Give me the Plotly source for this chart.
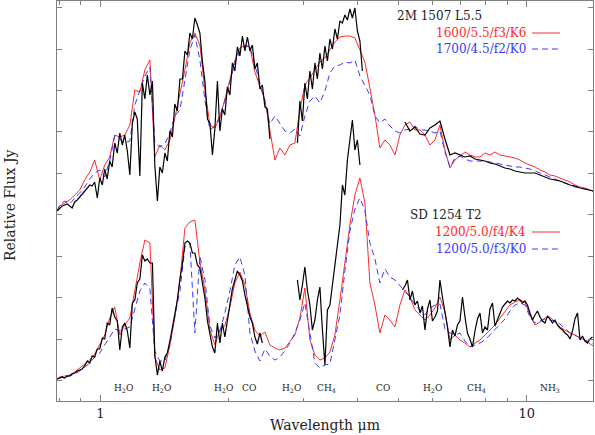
import math
import plotly.graph_objects as go

# ---------------- data ----------------
# common wavelength grid for the model spectra (micron)
wl_model = [
    0.791, 0.802, 0.824, 0.847, 0.870, 0.894, 0.918, 0.944, 0.969, 0.996,
    1.023, 1.051, 1.080, 1.110, 1.140, 1.172, 1.204, 1.237, 1.271, 1.306,
    1.341, 1.378, 1.416, 1.455, 1.494, 1.536, 1.578, 1.621, 1.665, 1.711,
    1.758, 1.806, 1.855, 1.906, 1.958, 2.012, 2.067, 2.124, 2.182, 2.242,
    2.303, 2.366, 2.431, 2.497, 2.566, 2.636, 2.708, 2.783, 2.859, 2.937,
    3.017, 3.100, 3.185, 3.272, 3.362, 3.454, 3.548, 3.646, 3.745, 3.848,
    3.953, 4.062, 4.173, 4.287, 4.405, 4.525, 4.649, 4.777, 4.908, 5.042,
    5.180, 5.322, 5.468, 5.618, 5.772, 5.930, 6.092, 6.259, 6.431, 6.607,
    6.788, 6.974, 7.165, 7.361, 7.563, 7.770, 7.983, 8.202, 8.427, 8.657,
    8.894, 9.138, 9.388, 9.645, 9.909, 10.18, 10.46, 10.75, 11.04, 11.34,
    11.65, 11.97, 12.30, 12.64, 12.98, 13.34, 13.70, 14.08, 14.31,
]

# 2M 1507 L5.5 models (relative flux, arbitrary offset units)
l55_model_1600 = [
    190, 195, 198, 201, 206, 211, 221, 229, 241, 221,
    236, 244, 266, 264, 266, 276, 311, 309, 331, 341,
    244, 256, 251, 261, 283, 306, 331, 358, 368, 356,
    311, 276, 273, 283, 301, 321, 341, 353, 356, 354,
    329, 316, 301, 271, 241, 253, 246, 256, 258, 291,
    316, 323, 331, 339, 343, 351, 359, 364, 365, 365,
    363, 351, 339, 313, 286, 253, 261, 256, 246, 266,
    276, 279, 271, 271, 266, 256, 261, 276, 251, 233,
    241, 245, 249, 246, 244, 244, 248, 246, 249, 246,
    245, 244, 243, 241, 238, 236, 234, 231, 229, 226,
    225, 223, 221, 219, 216, 214, 213, 211, 210,
]
l55_model_1700 = [
    190, 196, 200, 197, 203, 208, 214, 222, 228, 231,
    224, 240, 265, 262, 258, 260, 296, 310, 325, 334,
    258, 254, 257, 268, 285, 291, 321, 351, 366, 341,
    301, 271, 275, 285, 300, 320, 338, 350, 355, 354,
    335, 318, 300, 277, 285, 278, 270, 268, 272, 265,
    285, 300, 305, 298, 310, 328, 335, 336, 339, 338,
    341, 325, 316, 306, 285, 278, 282, 275, 270, 268,
    271, 272, 275, 271, 271, 270, 268, 270, 249, 234,
    243, 245, 242, 240, 240, 240, 240, 239, 238, 237,
    236, 235, 234, 234, 233, 232, 230, 228, 226, 224,
    222, 220, 218, 216, 214, 213, 212, 211, 210,
]
# SD 1254 T2 models
t2_model_f4 = [
    22, 24, 25, 26, 29, 33, 36, 41, 47, 56,
    66, 83, 94, 66, 76, 83, 111, 138, 161, 158,
    44, 31, 33, 56, 83, 121, 173, 179, 181, 139,
    111, 71, 56, 71, 75, 94, 118, 129, 116, 88,
    71, 65, 69, 56, 53, 51, 53, 59, 66, 83,
    113, 61, 46, 41, 43, 49, 66, 101, 139, 176,
    206, 223, 198, 118, 96, 68, 86, 81, 74, 96,
    111, 104, 91, 86, 81, 86, 93, 104, 89, 61,
    66, 61, 58, 54, 58, 61, 66, 71, 76, 83,
    89, 96, 99, 101, 99, 86, 76, 79, 83, 84,
    79, 74, 71, 68, 66, 63, 61, 57, 55,
]
t2_model_f3 = [
    22, 23, 24, 25, 27, 30, 34, 38, 44, 48,
    56, 64, 72, 70, 72, 74, 92, 110, 118, 112,
    50, 40, 40, 56, 85, 110, 154, 158, 68, 145,
    121, 75, 63, 70, 88, 110, 136, 144, 126, 68,
    50, 40, 52, 45, 41, 44, 50, 58, 68, 81,
    98, 70, 38, 33, 36, 37, 61, 86, 130, 170,
    192, 203, 190, 158, 142, 118, 132, 124, 121, 115,
    110, 104, 96, 91, 86, 93, 96, 97, 72, 68,
    66, 68, 60, 54, 56, 58, 61, 66, 71, 76,
    82, 90, 96, 98, 96, 84, 78, 80, 82, 81,
    80, 77, 72, 68, 66, 63, 61, 58, 57,
]

# observed spectra: near-infrared segment
wl_obs_nir = [
    0.791, 0.802, 0.813, 0.824, 0.835, 0.847, 0.858, 0.870, 0.882, 0.894,
    0.906, 0.918, 0.931, 0.944, 0.956, 0.969, 0.983, 0.996, 1.010, 1.023,
    1.037, 1.051, 1.065, 1.080, 1.095, 1.110, 1.125, 1.140, 1.156, 1.172,
    1.188, 1.204, 1.220, 1.237, 1.254, 1.271, 1.288, 1.306, 1.324, 1.341,
    1.360, 1.378, 1.397, 1.416, 1.435, 1.455, 1.475, 1.494, 1.515, 1.536,
    1.557, 1.578, 1.600, 1.621, 1.643, 1.665, 1.688, 1.711, 1.734, 1.758,
    1.782, 1.806, 1.831, 1.855, 1.881, 1.906, 1.932, 1.958, 1.985, 2.012,
    2.039, 2.067, 2.095, 2.124, 2.153, 2.182, 2.212, 2.242, 2.272, 2.303,
    2.334, 2.366, 2.398, 2.431, 2.464, 2.497,
]
l55_obs_nir = [
    190, 193, 195, 196, 197, 195, 193, 199, 201, 204,
    207, 210, 212, 216, 215, 219, 203, 223, 216, 232,
    222, 240, 234, 258, 248, 268, 256, 266, 250, 226,
    278, 289, 282, 225, 318, 302, 326, 306, 320, 236,
    200, 234, 228, 248, 240, 270, 264, 297, 290, 322,
    322, 350, 346, 368, 362, 383, 376, 368, 340, 320,
    282, 278, 246, 272, 320, 270, 292, 286, 314, 306,
    338, 330, 354, 345, 365, 350, 364, 350, 356, 332,
    338, 312, 316, 294, 292, 262,
]
t2_obs_nir = [
    22, 23, 24, 23, 25, 25, 27, 28, 30, 31,
    32, 35, 40, 38, 45, 44, 52, 52, 63, 62,
    78, 76, 93, 84, 80, 51, 74, 78, 70, 53,
    98, 101, 118, 122, 146, 140, 142, 138, 138, 46,
    26, 40, 30, 44, 48, 60, 74, 90, 101, 122,
    137, 158, 160, 158, 148, 148, 136, 133, 118, 103,
    80, 66, 54, 48, 78, 58, 78, 64, 80, 94,
    112, 121, 130, 126, 120, 106, 96, 84, 78, 64,
    57, 68, 58, None, None, None,
]

# observed spectra: L-band segment
wl_obs_l = [
    2.898, 2.937, 2.977, 3.017, 3.058, 3.100, 3.142, 3.185, 3.228, 3.272,
    3.317, 3.362, 3.408, 3.454, 3.501, 3.548, 3.597, 3.646, 3.695, 3.745,
    3.796, 3.848, 3.900, 3.953, 4.007, 4.062, 4.117,
]
l55_obs_l = [
    258, 300, 280, 318, 302, 330, 312, 338, 322, 348,
    332, 355, 340, 362, 352, 372, 362, 380, 378, 386,
    381, 392, 383, 393, 370, 360, 330,
]
t2_obs_l = [
    121, 101, 116, 134, 111, 96, 71, 81, 101, 114,
    71, 36, 91, 96, 116, 136, 156, 176, 216, 206,
    241, 261, 281, 251, 261, 236, None,
]

# observed spectra: mid-infrared segment
wl_l55_mir = [
    5.180, 5.322, 5.468, 5.618, 5.772, 5.930, 6.092, 6.259, 6.431, 6.607,
    6.788, 6.974, 7.165, 7.361, 7.563, 7.770, 7.983, 8.202, 8.427, 8.657,
    8.894, 9.138, 9.388, 9.645, 9.909, 10.18, 10.46, 10.75, 11.04, 11.34,
    11.65, 11.97, 12.30, 12.64, 12.98, 13.34, 13.70, 14.08, 14.31,
]
l55_obs_mir = [
    279, 270, 274, 267, 266, 273, 276, 280, 262, 246,
    248, 246, 244, 245, 242, 241, 240, 238, 237, 235,
    233, 232, 230, 229, 228, 228, 228, 226, 224, 222,
    221, 220, 218, 216, 215, 213, 212, 211, 210,
]
wl_t2_mir = [
    5.111, 5.180, 5.251, 5.322, 5.395, 5.468, 5.542, 5.618, 5.694, 5.772,
    5.850, 5.930, 6.011, 6.092, 6.175, 6.259, 6.344, 6.431, 6.518, 6.607,
    6.697, 6.788, 6.880, 6.974, 7.069, 7.165, 7.262, 7.361, 7.462, 7.563,
    7.666, 7.770, 7.876, 7.983, 8.092, 8.202, 8.314, 8.427, 8.542, 8.657,
    8.775, 8.894, 9.015, 9.138, 9.262, 9.388, 9.516, 9.645, 9.776, 9.909,
    10.04, 10.18, 10.32, 10.46, 10.60, 10.75, 10.89, 11.04, 11.19, 11.34,
    11.50, 11.65, 11.81, 11.97, 12.14, 12.30, 12.47, 12.64, 12.81, 12.98,
    13.16, 13.34, 13.52, 13.70, 13.89, 14.08, 14.27,
]
t2_obs_mir = [
    111, 115, 121, 101, 110, 96, 100, 88, 95, 71,
    92, 101, 80, 84, 90, 121, 104, 90, 74, 54,
    71, 65, 76, 80, 104, 84, 68, 62, 54, 70,
    82, 88, 68, 74, 71, 92, 98, 75, 82, 88,
    94, 97, 100, 98, 101, 100, 103, 101, 98, 100,
    96, 88, 81, 86, 90, 84, 80, 78, 85, 82,
    78, 81, 76, 73, 71, 68, 66, 62, 70, 82,
    88, 61, 65, 60, 58, 62, 64,
]

# feature labels
feature_names = ["H<sub>2</sub>O", "H<sub>2</sub>O", "H<sub>2</sub>O", "CO", "H<sub>2</sub>O",
                 "CH<sub>4</sub>", "CO", "H<sub>2</sub>O", "CH<sub>4</sub>", "NH<sub>3</sub>"]
feature_wl = [1.134, 1.393, 1.947, 2.23, 2.80, 3.40, 4.60, 6.0, 7.64, 11.34]
feature_level = 13

x_major_ticks = [1, 10]
x_major_labels = ["1", "10"]
x_minor_ticks = [0.8, 0.9, 2, 3, 4, 5, 6, 7, 8, 9]
y_ticks = [20.3 + 41.46 * k for k in range(10)]

upper_title = "2M 1507 L5.5"
upper_models = ["1600/5.5/f3/K6", "1700/4.5/f2/K0"]
lower_title = "SD 1254 T2"
lower_models = ["1200/5.0/f4/K4", "1200/5.0/f3/K0"]

# ---------------- figure ----------------
RED = "#ff2a2a"
BLUE = "#3a3aff"
FONT = "DejaVu Serif"
AX = "#808080"
TXT = "#222"

def join(*segs):
    xs, ys = [], []
    for i, (sx, sy) in enumerate(segs):
        if i:
            xs.append(None)
            ys.append(None)
        xs += list(sx)
        ys += list(sy)
    return xs, ys

fig = go.Figure()
for y, col, dash in [(l55_model_1600, RED, "solid"), (l55_model_1700, BLUE, "6px,4px"),
                     (t2_model_f4, RED, "solid"), (t2_model_f3, BLUE, "6px,4px")]:
    fig.add_trace(go.Scatter(x=wl_model, y=y, mode="lines",
                             line=dict(color=col, width=1, dash=dash), hoverinfo="skip"))

bx, by = join((wl_obs_nir, l55_obs_nir), (wl_obs_l, l55_obs_l), (wl_l55_mir, l55_obs_mir))
fig.add_trace(go.Scatter(x=bx, y=by, mode="lines", connectgaps=False,
                         line=dict(color="black", width=1.2)))
bx, by = join((wl_obs_nir, t2_obs_nir), (wl_obs_l, t2_obs_l), (wl_t2_mir, t2_obs_mir))
fig.add_trace(go.Scatter(x=bx, y=by, mode="lines", connectgaps=False,
                         line=dict(color="black", width=1.2)))

ann = []
for name, wl in zip(feature_names, feature_wl):
    ann.append(dict(x=math.log10(wl), y=feature_level, xref="x", yref="y", text=name,
                    showarrow=False, font=dict(family=FONT, size=9, color=TXT)))

def px2paper(px):
    return (px - 57) / 536.0

def py2paper(py):
    return (401 - py) / 400.0

def legend_block(title, models, y_title, y1, y2):
    ann.append(dict(x=px2paper(484), y=y_title, xref="paper", yref="y", text=title,
                    showarrow=False, font=dict(family=FONT, size=12, color=TXT)))
    for txt, yy, col, dash in [(models[0], y1, RED, "solid"), (models[1], y2, BLUE, "6px,4px")]:
        ann.append(dict(x=px2paper(528), y=yy, xref="paper", yref="y", text=txt,
                        xanchor="right", showarrow=False,
                        font=dict(family=FONT, size=12, color=col)))
        fig.add_shape(type="line", xref="paper", yref="y", x0=px2paper(532), x1=px2paper(560),
                      y0=yy, y1=yy, line=dict(color=col, width=1, dash=dash))

legend_block(upper_title, upper_models, 401 - 16, 401 - 33, 401 - 49)
legend_block(lower_title, lower_models, 401 - 215, 401 - 232, 401 - 249)

ann.append(dict(x=px2paper(10), y=py2paper(205), xref="paper", yref="paper", text="Relative Flux Jy",
                xanchor="center", yanchor="middle",
                textangle=-90, showarrow=False, font=dict(family=FONT, size=14, color=TXT)))
ann.append(dict(x=px2paper(325), y=py2paper(425), xref="paper", yref="paper", text="Wavelength μm",
                xanchor="center", yanchor="middle",
                showarrow=False, font=dict(family=FONT, size=14, color=TXT)))

fig.update_layout(
    width=595, height=435,
    margin=dict(l=57, r=2, t=1, b=34, autoexpand=False),
    paper_bgcolor="white", plot_bgcolor="white",
    showlegend=False,
    annotations=ann,
    xaxis=dict(
        type="log", automargin=False,
        range=[math.log10(0.7906), math.log10(14.31)],
        tickmode="array", tickvals=x_major_ticks, ticktext=x_major_labels,
        ticks="inside", ticklen=6, tickcolor=AX, tickwidth=1,
        minor=dict(tickmode="array", tickvals=x_minor_ticks, ticks="inside", ticklen=3.5,
                   tickcolor=AX, tickwidth=1, showgrid=False),
        showline=True, linecolor=AX, linewidth=1, mirror="ticks",
        showgrid=False, zeroline=False,
        tickfont=dict(family=FONT, size=13, color=TXT),
    ),
    yaxis=dict(
        automargin=False,
        range=[0, 400],
        tickmode="array", tickvals=y_ticks, showticklabels=False,
        ticks="inside", ticklen=5, tickcolor=AX, tickwidth=1,
        showline=True, linecolor=AX, linewidth=1, mirror="ticks",
        showgrid=False, zeroline=False,
    ),
)

fig.write_html("out.html", config={"displayModeBar": False},
               post_script="document.body.style.margin='0';document.body.style.overflow='hidden';")
